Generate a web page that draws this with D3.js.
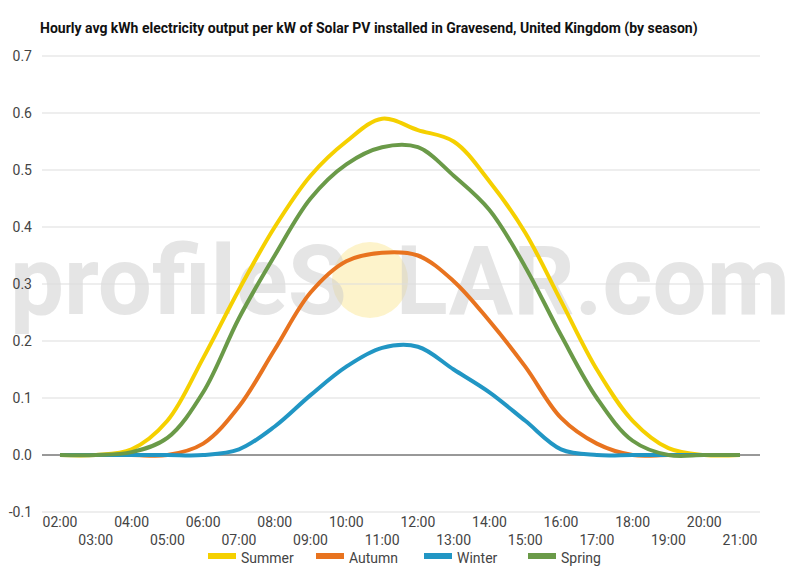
<!DOCTYPE html><html><head><meta charset="utf-8"><script src="https://cdn.jsdelivr.net/npm/d3@7"></script>
<style>body{margin:0;background:#fff;font-family:Roboto,sans-serif}</style></head><body><svg id="c" width="800" height="570"></svg>
<script>
const hours=["02:00","03:00","04:00","05:00","06:00","07:00","08:00","09:00","10:00","11:00","12:00","13:00","14:00","15:00","16:00","17:00","18:00","19:00","20:00","21:00"];
const summer=[0,0,0.01,0.06,0.17,0.29,0.40,0.49,0.55,0.59,0.57,0.55,0.48,0.39,0.27,0.15,0.06,0.012,0,0];
const autumn=[0,0,0,0,0.02,0.085,0.185,0.285,0.34,0.355,0.35,0.305,0.235,0.155,0.065,0.02,0,0,0,0];
const winter=[0,0,0,0,0,0.01,0.05,0.105,0.155,0.188,0.19,0.15,0.11,0.06,0.01,0,0,0,0,0];
const spring=[0,0,0.005,0.03,0.11,0.24,0.35,0.45,0.51,0.54,0.54,0.49,0.43,0.33,0.21,0.10,0.025,0,0,0];
const yTicks=[-0.1,0,0.1,0.2,0.3,0.4,0.5,0.6,0.7];
const series=[{n:"Summer",v:summer,c:"#f5d000"},{n:"Autumn",v:autumn,c:"#e8731f"},{n:"Winter",v:winter,c:"#2196c4"},{n:"Spring",v:spring,c:"#6a9a48"}];
const svg=d3.select("#c");
const x=d3.scalePoint().domain(hours).range([60,740]);
const y=d3.scaleLinear().domain([-0.1,0.7]).range([512,56]);
// watermark (behind everything)
svg.append("circle").attr("cx",370).attr("cy",280).attr("r",38).attr("fill","#fbe9a0").attr("opacity",0.55);
svg.append("text").attr("x",400).attr("y",314).attr("text-anchor","middle").attr("font-size",96).attr("font-weight","bold").attr("fill","#ccc").attr("opacity",0.5).text("profileS\u2002LAR.com");
svg.append("text").attr("x",40).attr("y",33).attr("font-size",14).attr("font-weight","bold").attr("fill","#111").text("Hourly avg kWh electricity output per kW of Solar PV installed in Gravesend, United Kingdom (by season)");
const g=svg.append("g");
yTicks.forEach(t=>{g.append("line").attr("x1",42).attr("x2",760).attr("y1",y(t)).attr("y2",y(t)).attr("stroke",t===0?"#333":"#ddd").attr("stroke-width",1);
g.append("text").attr("x",32).attr("y",y(t)+5).attr("text-anchor","end").attr("font-size",14).attr("fill","#444").text(t.toFixed(1));});
hours.forEach((h,i)=>{g.append("text").attr("x",x(h)).attr("y",i%2?545:527).attr("text-anchor","middle").attr("font-size",14).attr("fill","#444").text(h);});
const line=d3.line().x((d,i)=>x(hours[i])).y(d=>y(d)).curve(d3.curveCatmullRom.alpha(0.5));
series.forEach(s=>svg.append("path").attr("d",line(s.v)).attr("fill","none").attr("stroke",s.c).attr("stroke-width",4));
const lx=[208,316,424,528];
series.forEach((s,i)=>{svg.append("rect").attr("x",lx[i]).attr("y",553).attr("width",28).attr("height",6).attr("fill",s.c);
svg.append("text").attr("x",lx[i]+33).attr("y",563).attr("font-size",14).attr("fill","#444").text(s.n);});
</script></body></html>
